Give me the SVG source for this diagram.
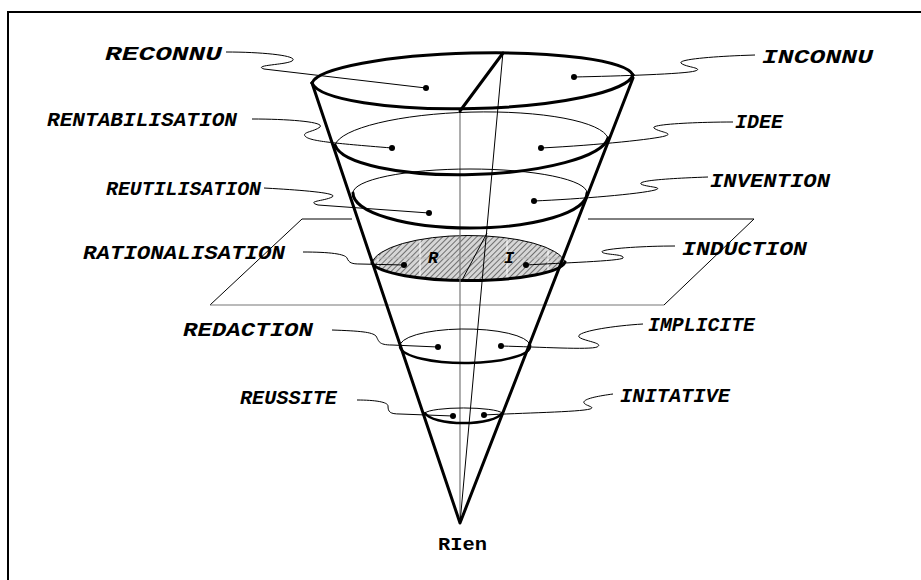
<svg xmlns="http://www.w3.org/2000/svg" width="921" height="580" viewBox="0 0 921 580">
<style>
.lbl{font-family:"Liberation Mono","DejaVu Sans Mono",monospace;font-weight:bold;font-style:italic;font-size:21px;fill:#000}
.lead{fill:none;stroke:#000;stroke-width:1}
.thick{fill:none;stroke:#000;stroke-width:3;stroke-linejoin:round;stroke-linecap:round}
.thin{fill:none;stroke:#000;stroke-width:1}
.gray{fill:none;stroke:#777;stroke-width:1.2}
.dot{fill:#000}
</style>
<defs>
<pattern id="hatch" width="4" height="4" patternUnits="userSpaceOnUse" patternTransform="rotate(45)">
<rect width="4" height="4" fill="#d6d6d6"/>
<line x1="0" y1="0" x2="0" y2="4" stroke="#555" stroke-width="1.6"/>
</pattern>
<clipPath id="shclip"><path d="M372,263 A97,30 0 0 1 565,262 A97,20 0 0 1 372,263 Z"/></clipPath>
</defs>
<rect width="921" height="580" fill="#fff"/>
<g id="frame"><path d="M8,580 L8,12 L921,12" fill="none" stroke="#000" stroke-width="2"/></g>

<g id="plane">
<path class="thin" d="M352,219 L302,219 L210,305"/>
<path class="thin" d="M588,219 L754,219 L664,305"/>
<path class="gray" d="M210,305 L664,305"/>
</g>

<g id="shaded">
<path d="M372,263 A97,30 0 0 1 565,262 A97,20 0 0 1 372,263 Z" fill="url(#hatch)"/>
<g clip-path="url(#shclip)" stroke="#fff" stroke-width="1">
<line x1="378" y1="230" x2="378" y2="290"/>
<line x1="420" y1="230" x2="420" y2="290"/>
<line x1="507" y1="230" x2="507" y2="290"/>
<line x1="548" y1="230" x2="548" y2="290"/>
<line x1="370" y1="258" x2="570" y2="258" stroke="#bbb"/>
</g>
<path class="thin" d="M372,263 A97,30 0 0 1 565,262"/>
<path class="thick" d="M372,263 A97,20 0 0 0 565,262"/>
<path class="thin" d="M487,233 L461,282"/>
</g>

<g id="axes">
<path class="gray" d="M460,111 L460,523"/>
<path class="thin" d="M503,52 L460,523"/>
</g>

<g id="rings">
<path class="thick" d="M312,83 A161,28 -1.4 0 1 633,75"/>
<path class="thick" d="M312,83 A161,32 -1.4 0 0 633,75"/>
<path class="thick" d="M503,53 L460,111"/>
<path class="thin" d="M335,145 A137,32 -1.5 0 1 608,138"/>
<path class="thick" d="M335,145 A137,36 -1.5 0 0 608,138"/>
<path class="thin" d="M353,193 A117,24 0 0 1 587,193"/>
<path class="thick" d="M353,193 A117,35 0 0 0 587,193"/>
<path class="thin" d="M400,347 A65,17 0 0 1 530,345"/>
<path class="thick" d="M400,347 A65,17 0 0 0 530,345" style="stroke-width:2.5"/>
<path class="thin" d="M425,413 A39,6 0 0 1 502,413"/>
<path class="thick" d="M425,413 A39,12 0 0 0 502,413" style="stroke-width:2.5"/>
</g>

<g id="cone"><path class="thick" d="M312,83 L460,523 L633,78"/></g>

<g id="connectors">
<path class="lead" d="M226,52 C265,52 300,56 292,61 C285,65 252,65 264,69 L426,88"/>
<path class="lead" d="M252,119 C290,119 325,122 320,127 C314,132 300,132 306,137 C312,141 330,143 392,148"/>
<path class="lead" d="M264,188 C300,190 340,193 332,197 C325,201 305,201 318,205 L429,213"/>
<path class="lead" d="M303,252 C330,252 345,254 347,258 C349,263 352,264 360,264 L404,265"/>
<path class="lead" d="M675,246 C640,246 600,249 602,252 C604,255 625,254 623,258 C621,261 560,263 526,265"/>
<path class="lead" d="M332,330 C360,331 372,332 376,336 C379,341 378,345 392,345 L438,347"/>
<path class="lead" d="M643,324 C610,326 575,332 579,337 C583,341 605,343 597,347 C590,350 540,347 501,346"/>
<path class="lead" d="M357,400 C375,400 388,402 388,406 C388,412 390,414 400,414 L453,416"/>
<path class="lead" d="M613,394 C598,396 582,399 584,403 C586,406 596,407 590,409 C580,412 520,413 484,415"/>
<path class="lead" d="M755,55 C720,56 678,59 681,63 C684,67 705,68 695,71 C685,74 620,76 574,77"/>
<path class="lead" d="M733,122 C700,122 650,124 654,128 C658,132 675,133 665,136 C655,139 600,145 541,148"/>
<path class="lead" d="M708,177 C680,178 637,180 641,184 C645,187 665,187 655,190 C640,194 580,199 534,201"/>
</g>

<g id="reconnu"><text class="lbl" x="105" y="60" textLength="117" lengthAdjust="spacingAndGlyphs">RECONNU</text><circle class="dot" cx="426" cy="88" r="3"/></g>
<g id="inconnu"><text class="lbl" x="762" y="63" textLength="111" lengthAdjust="spacingAndGlyphs">INCONNU</text><circle class="dot" cx="574" cy="77" r="3"/></g>
<g id="rentabilisation"><text class="lbl" x="47" y="126" textLength="190" lengthAdjust="spacingAndGlyphs">RENTABILISATION</text><circle class="dot" cx="392" cy="148" r="3"/></g>
<g id="idee"><text class="lbl" x="735" y="128" textLength="48" lengthAdjust="spacingAndGlyphs">IDEE</text><circle class="dot" cx="541" cy="148" r="3"/></g>
<g id="reutilisation"><text class="lbl" x="106" y="195" textLength="155" lengthAdjust="spacingAndGlyphs">REUTILISATION</text><circle class="dot" cx="429" cy="213" r="3"/></g>
<g id="invention"><text class="lbl" x="710" y="187" textLength="120" lengthAdjust="spacingAndGlyphs">INVENTION</text><circle class="dot" cx="534" cy="201" r="3"/></g>
<g id="rationalisation"><text class="lbl" x="83" y="259" textLength="202" lengthAdjust="spacingAndGlyphs">RATIONALISATION</text><circle class="dot" cx="404" cy="265" r="3"/></g>
<g id="induction"><text class="lbl" x="682" y="255" textLength="125" lengthAdjust="spacingAndGlyphs">INDUCTION</text><circle class="dot" cx="526" cy="265" r="3"/></g>
<g id="redaction"><text class="lbl" x="183" y="336" textLength="130" lengthAdjust="spacingAndGlyphs">REDACTION</text><circle class="dot" cx="438" cy="347" r="3"/></g>
<g id="implicite"><text class="lbl" x="648" y="331" textLength="107" lengthAdjust="spacingAndGlyphs">IMPLICITE</text><circle class="dot" cx="501" cy="346" r="3"/></g>
<g id="reussite"><text class="lbl" x="240" y="404" textLength="97" lengthAdjust="spacingAndGlyphs">REUSSITE</text><circle class="dot" cx="453" cy="416" r="3"/></g>
<g id="initative"><text class="lbl" x="620" y="402" textLength="110" lengthAdjust="spacingAndGlyphs">INITATIVE</text><circle class="dot" cx="484" cy="415" r="3"/></g>
<g id="r"><text class="lbl" x="428" y="263" style="font-size:17px">R</text></g>
<g id="i"><text class="lbl" x="504" y="263" style="font-size:17px">I</text></g>
<g id="rien"><text class="lbl" x="438" y="550" textLength="49" lengthAdjust="spacingAndGlyphs" style="font-style:normal;font-size:19px">RIen</text></g>
</svg>
